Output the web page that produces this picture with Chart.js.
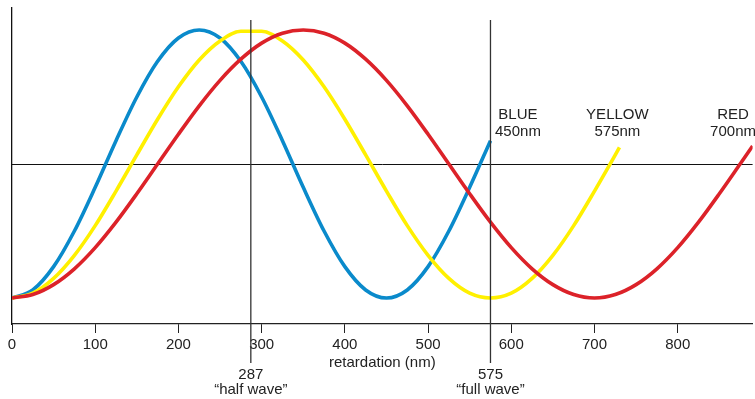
<!DOCTYPE html>
<html>
<head>
<meta charset="utf-8">
<script src="https://cdn.jsdelivr.net/npm/chart.js@4"></script>
<style>
html,body{margin:0;padding:0;background:#fff;}
#wrap{width:755px;height:399px;position:relative;}
</style>
</head>
<body>
<div id="wrap"><canvas id="c" width="755" height="399"></canvas></div>
<script>
// ---- data ----
const xTicks = [0, 100, 200, 300, 400, 500, 600, 700, 800];

const blueNm = [0,25,50,75,100,125,150,175,200,225,250,275,300,325,350,375,400,425,450,475,500,525,550,575];
const blueIntensity = [0,0.030,0.117,0.250,0.413,0.587,0.750,0.883,0.970,1.000,0.970,0.883,0.750,0.587,0.413,0.250,0.117,0.030,0,0.030,0.117,0.250,0.413,0.587];

const yellowNm = [0,25,50,75,100,125,150,175,200,225,250,275,300,325,350,375,400,425,450,475,500,525,550,575,600,625,650,675,700,725,730];
const yellowIntensity = [0,0.018,0.073,0.159,0.270,0.399,0.534,0.667,0.788,0.888,0.959,0.995,0.995,0.959,0.888,0.788,0.667,0.534,0.399,0.270,0.159,0.073,0.018,0,0.018,0.073,0.159,0.270,0.399,0.534,0.562];

const redNm = [0,25,50,75,100,125,150,175,200,225,250,275,300,325,350,375,400,425,450,475,500,525,550,575,600,625,650,675,700,725,750,775,800,825,850,875,890];
const redIntensity = [0,0.013,0.050,0.109,0.188,0.283,0.389,0.500,0.611,0.717,0.812,0.891,0.951,0.988,1.000,0.988,0.951,0.891,0.812,0.717,0.611,0.500,0.389,0.283,0.188,0.109,0.050,0.013,0,0.013,0.050,0.109,0.188,0.283,0.389,0.500,0.567];

const seriesLabels = [["BLUE","450nm"],["YELLOW","575nm"],["RED","700nm"]];
const markers = [287, 575];
const markerLabels = [["287","\u201Chalf wave\u201D"],["575","\u201Cfull wave\u201D"]];
const axisTitle = "retardation (nm)";

// ---- styles ----
const FONT = "'Liberation Sans', Arial, Helvetica, sans-serif";
const colors = ["#0a8acb", "#fff000", "#dc2229"];

function pts(xs, ys){ return xs.map((x,i)=>({x:x, y:ys[i]})); }

const overlay = {
  id: 'overlay',
  beforeDatasetsDraw(chart){
    const {ctx, chartArea, scales:{x, y}} = chart;
    ctx.save();
    ctx.strokeStyle = '#111';
    ctx.lineWidth = 1;
    const ym = Math.round(y.getPixelForValue(0.5)) + 0.5;
    ctx.beginPath();
    ctx.moveTo(chartArea.left, ym);
    ctx.lineTo(chartArea.right, ym);
    ctx.stroke();
    ctx.restore();
  },
  afterDatasetsDraw(chart){
    const {ctx, chartArea, scales:{x, y}} = chart;
    ctx.save();
    ctx.strokeStyle = '#333';
    ctx.lineWidth = 1.3;
    markers.forEach(m=>{
      const px = x.getPixelForValue(m);
      ctx.beginPath();
      ctx.moveTo(px, y.getPixelForValue(1.037));
      ctx.lineTo(px, chartArea.bottom + 39);
      ctx.stroke();
    });
    ctx.fillStyle = '#222';
    ctx.font = '15px ' + FONT;
    ctx.textAlign = 'center';
    ctx.textBaseline = 'alphabetic';
    markers.forEach((m,i)=>{
      const px = x.getPixelForValue(m);
      ctx.fillText(markerLabels[i][0], px, chartArea.bottom + 55);
      ctx.fillText(markerLabels[i][1], px, chartArea.bottom + 69.5);
    });
    const labelX = [608, 727.5, 866.5];
    seriesLabels.forEach((lab,i)=>{
      const px = x.getPixelForValue(labelX[i]);
      ctx.fillText(lab[0], px, y.getPixelForValue(0.668));
      ctx.fillText(lab[1], px, y.getPixelForValue(0.603));
    });
    ctx.restore();
  }
};

const mk = (label, xs, ys, c) => ({
  label, data: pts(xs, ys), borderColor: c, backgroundColor: c,
  borderWidth: 3.6, pointRadius: 0, showLine: true, fill: false,
  cubicInterpolationMode: 'monotone'
});

new Chart(document.getElementById('c'), {
  type: 'scatter',
  data: {
    datasets: [
      mk('RED 700nm', redNm, redIntensity, colors[2]),
      mk('YELLOW 575nm', yellowNm, yellowIntensity, colors[1]),
      mk('BLUE 450nm', blueNm, blueIntensity, colors[0])
    ]
  },
  options: {
    responsive: false,
    animation: false,
    devicePixelRatio: 1,
    layout: { padding: { left: 12, right: 2.4, top: 8, bottom: 0 } },
    plugins: { legend: { display: false }, tooltip: { enabled: false } },
    scales: {
      x: {
        type: 'linear', min: 0, max: 890,
        afterBuildTicks: (s) => { s.ticks = xTicks.map(v => ({value: v})); },
        afterFit: (s) => { s.height = 75; },
        grid: { drawOnChartArea: false, drawTicks: true, tickLength: 9, color: '#222', lineWidth: 1 },
        border: { display: true, color: '#222', width: 1.2 },
        ticks: { padding: 2.5, color: '#222', font: { family: FONT, size: 15 }, maxRotation: 0 },
        title: { display: true, text: axisTitle, color: '#222', font: { family: FONT, size: 15 }, padding: { top: 0, bottom: 27 } }
      },
      y: {
        type: 'linear', min: -0.097, max: 1.082,
        afterFit: (s) => { s.width = 0; },
        grid: { display: false, drawTicks: false },
        border: { display: true, color: '#111', width: 1.3 },
        ticks: { display: false }
      }
    }
  },
  plugins: [overlay]
});
</script>
</body>
</html>
